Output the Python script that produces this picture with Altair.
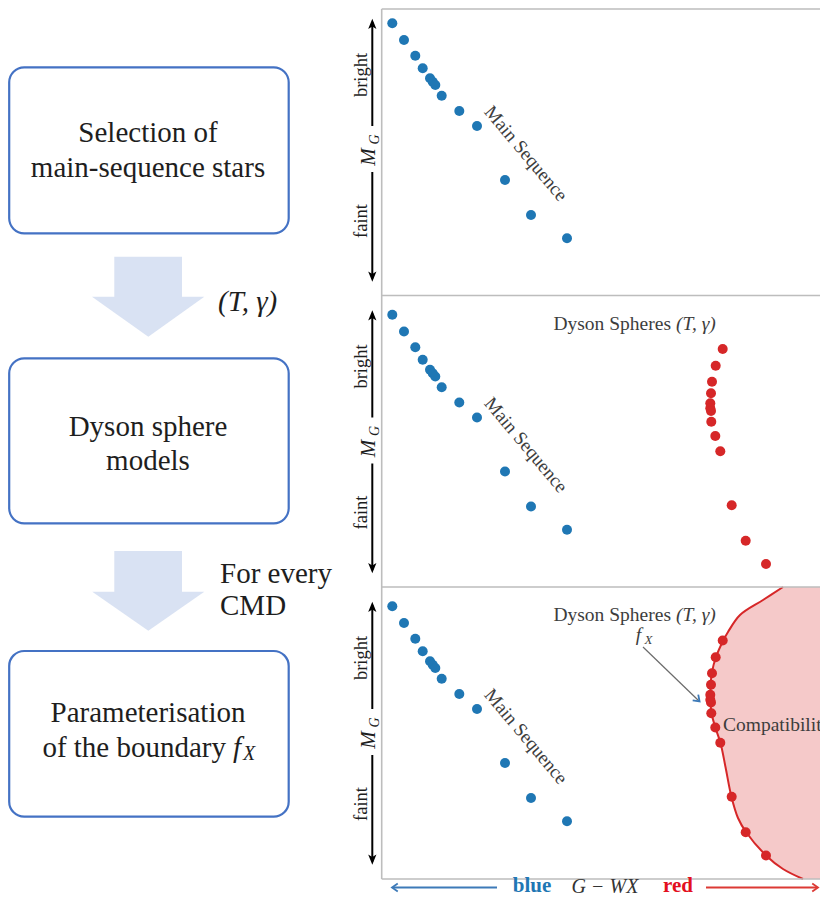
import altair as alt
import pandas as pd

# ---------------- data ----------------
# main-sequence stars: G-WX colour and M_G (diagram units, top panel)
ms_colour = [392.3, 404.0, 415.3, 422.7, 430.0, 432.7, 435.3, 441.7, 459.3, 477.0, 505.0, 531.0, 567.0]
ms_mag = [23.3, 40.0, 55.7, 68.3, 78.3, 81.7, 85.0, 95.7, 111.0, 126.0, 180.0, 215.0, 238.3]
# Dyson-sphere models (T, gamma)
ds_colour = [722.7, 715.7, 712.0, 711.0, 710.3, 710.3, 711.0, 711.3, 715.3, 720.3, 731.7, 745.7, 766.0]
ds_mag = [57.5, 74.2, 90.2, 101.8, 111.8, 116.8, 119.5, 130.2, 144.5, 159.8, 213.8, 249.2, 272.5]
# compatibility boundary f_X
fx_colour = [783, 763, 740, 728, 723, 716, 712, 710.5, 710.5, 711.5, 715.5, 720.5, 725.5, 731.5, 738, 746, 766, 783, 803]
fx_mag = [4, 17, 32, 49, 58, 74, 89, 104, 117, 130, 145, 160, 184, 214, 235, 249, 272.5, 286, 296]

# flow-chart texts
box_line1 = ["Selection of", "Dyson sphere", "Parameterisation"]
box_line2 = ["main-sequence stars", "models", "of the boundary"]
step_labels = ["(T, γ)", "For every", "CMD"]

# ---------------- layout constants ----------------
PANEL_DY = [0, 291.5, 583]
PANEL_H = [9, 295.5, 587, 879]
PANEL_LEFT = 381.7
RIGHT = 828
BOX_X = (9.2, 288.7)
BOX_TOP = [67.3, 358.3, 651.0]
BOX_BOT = [233.3, 523.3, 816.7]
BOX_CX = 148
LINE1_Y = [133, 426.5, 713]
LINE2_Y = [168, 460.5, 747.5]
AXIS_Y = 887.5
SERIF = "'Liberation Serif', 'Times New Roman', 'DejaVu Serif', serif"
TXT = "#1e1e1e"
GREY_TXT = "#3d3d3d"
BLUE = "#1f77b4"
RED = "#d62728"

XS = alt.Scale(domain=[8, 820], nice=False, zero=False)
YS = alt.Scale(domain=[8, 897], nice=False, zero=False, reverse=True)


def xy(extra=None):
    e = dict(x=alt.X("x:Q", scale=XS, axis=None), y=alt.Y("y:Q", scale=YS, axis=None))
    if extra:
        e.update(extra)
    return e


def text_layer(df, **kw):
    kw.setdefault("font", SERIF)
    return alt.Chart(df).mark_text(**kw).encode(**xy({"text": "text:N"}))


layers = []

# block arrows between boxes
shaft = pd.DataFrame({"x": [114.3, 114.3], "x2": [182.0, 182.0], "y": [256.7, 551.0], "y2": [297.5, 592.5]})
layers.append(alt.Chart(shaft).mark_rect(color="#d9e2f3").encode(**xy({"x2": "x2:Q", "y2": "y2:Q"})))
head = pd.DataFrame({
    "x": [92, 148.3, 204.3, 92.3, 148.3, 204.3],
    "y": [296.7, 336.7, 296.7, 591.7, 630.7, 591.7],
    "y2": [296.7, 296.7, 296.7, 591.7, 591.7, 591.7],
    "g": [0, 0, 0, 1, 1, 1],
})
layers.append(alt.Chart(head).mark_area(color="#d9e2f3", opacity=1).encode(**xy({"y2": "y2:Q", "detail": "g:N"})))

# rounded boxes
boxes = pd.DataFrame({"x": [BOX_X[0]] * 3, "x2": [BOX_X[1]] * 3, "y": BOX_TOP, "y2": BOX_BOT})
layers.append(alt.Chart(boxes).mark_rect(cornerRadius=15, fill="white", stroke="#4472c4", strokeWidth=2.2)
              .encode(**xy({"x2": "x2:Q", "y2": "y2:Q"})))

# box texts
bt = pd.DataFrame({"x": [BOX_CX] * 5, "y": LINE1_Y + LINE2_Y[:2], "text": box_line1 + box_line2[:2]})
layers.append(text_layer(bt, fontSize=29, color=TXT, align="center", baseline="middle"))
layers.append(text_layer(pd.DataFrame({"x": [226], "y": [LINE2_Y[2]], "text": [box_line2[2]]}),
                         fontSize=29, color=TXT, align="right", baseline="middle"))
layers.append(text_layer(pd.DataFrame({"x": [233], "y": [LINE2_Y[2]], "text": ["f"]}),
                         fontSize=29, color=TXT, align="left", baseline="middle", fontStyle="italic"))
layers.append(text_layer(pd.DataFrame({"x": [243], "y": [LINE2_Y[2] + 6], "text": ["X"]}),
                         fontSize=20, color=TXT, align="left", baseline="middle", fontStyle="italic"))

# step labels
layers.append(text_layer(pd.DataFrame({"x": [218], "y": [301.7], "text": [step_labels[0]]}),
                         fontSize=29, color=TXT, align="left", baseline="middle", fontStyle="italic"))
layers.append(text_layer(pd.DataFrame({"x": [220, 220], "y": [574, 605.5], "text": step_labels[1:]}),
                         fontSize=29, color=TXT, align="left", baseline="middle"))

# compatibility region (bottom panel)
curve = pd.DataFrame({"x": fx_colour, "y": [m + PANEL_DY[2] for m in fx_mag], "x2": [RIGHT] * len(fx_colour),
                      "i": list(range(len(fx_colour)))})
layers.append(alt.Chart(curve).mark_area(orient="horizontal", interpolate="catmull-rom", color=RED, opacity=0.25)
              .encode(**xy({"x2": "x2:Q"})))
layers.append(alt.Chart(curve).mark_line(interpolate="catmull-rom", color=RED, strokeWidth=2)
              .encode(**xy({"order": "i:Q"})))

# panel frames
rules = pd.DataFrame({
    "x": [PANEL_LEFT] * 5, "x2": [RIGHT] * 4 + [PANEL_LEFT],
    "y": PANEL_H + [PANEL_H[0]], "y2": PANEL_H + [PANEL_H[-1]],
})
layers.append(alt.Chart(rules).mark_rule(color="#bdbdbd", strokeWidth=1.6).encode(**xy({"x2": "x2:Q", "y2": "y2:Q"})))

# axis arrows / labels of every panel
segs = pd.DataFrame({
    "x": [372.3] * 6, "x2": [372.3] * 6,
    "y": [v + d for d in PANEL_DY for v in (22, 172)],
    "y2": [v + d for d in PANEL_DY for v in (126, 278.5)],
})
layers.append(alt.Chart(segs).mark_rule(color="black", strokeWidth=2).encode(**xy({"x2": "x2:Q", "y2": "y2:Q"})))
heads = pd.DataFrame({"x": [372.3] * 6, "y": [v + d for d in PANEL_DY for v in (24.2, 276.3)],
                      "a": [0, 180] * 3})
layers.append(alt.Chart(heads).mark_point(shape="M0,-1L0.75,0.85L0,0.4L-0.75,0.85Z", filled=True, size=121,
                                          color="black", opacity=1)
              .encode(**xy({"angle": alt.Angle("a:Q", scale=None)})))
bf = pd.DataFrame({"x": [361] * 6, "y": [v + d for d in PANEL_DY for v in (75, 221)],
                   "text": ["bright", "faint"] * 3})
layers.append(text_layer(bf, fontSize=18.5, color=TXT, angle=270, align="center", baseline="middle"))
layers.append(text_layer(pd.DataFrame({"x": [368.5] * 3, "y": [157 + d for d in PANEL_DY], "text": ["M"] * 3}),
                         fontSize=21, color=TXT, angle=270, align="center", baseline="middle", fontStyle="italic"))
layers.append(text_layer(pd.DataFrame({"x": [374.5] * 3, "y": [139.5 + d for d in PANEL_DY], "text": ["G"] * 3}),
                         fontSize=14, color=TXT, angle=270, align="center", baseline="middle", fontStyle="italic"))

# main sequence label
layers.append(text_layer(pd.DataFrame({"x": [526] * 3, "y": [153.5 + d for d in PANEL_DY],
                                       "text": ["Main Sequence"] * 3}),
                         fontSize=19, color=GREY_TXT, angle=50, align="center", baseline="middle"))

# dyson spheres label
layers.append(text_layer(pd.DataFrame({"x": [671] * 2, "y": [32 + d for d in PANEL_DY[1:]],
                                       "text": ["Dyson Spheres"] * 2}),
                         fontSize=19.5, color=GREY_TXT, align="right", baseline="middle"))
layers.append(text_layer(pd.DataFrame({"x": [676] * 2, "y": [32 + d for d in PANEL_DY[1:]],
                                       "text": ["(T, γ)"] * 2}),
                         fontSize=19.5, color=GREY_TXT, align="left", baseline="middle", fontStyle="italic"))
layers.append(text_layer(pd.DataFrame({"x": [638.5], "y": [634.5], "text": ["f"]}),
                         fontSize=19.5, color=GREY_TXT, align="center", baseline="middle", fontStyle="italic"))
layers.append(text_layer(pd.DataFrame({"x": [648.5], "y": [639.5], "text": ["X"]}),
                         fontSize=13, color=GREY_TXT, align="center", baseline="middle", fontStyle="italic"))
layers.append(text_layer(pd.DataFrame({"x": [723], "y": [724.5], "text": ["Compatibility"]}),
                         fontSize=19.5, color=GREY_TXT, align="left", baseline="middle"))

# f_X pointer
ptr = pd.DataFrame({"x": [643], "y": [647], "x2": [699], "y2": [701]})
layers.append(alt.Chart(ptr).mark_rule(color="#6b6b6b", strokeWidth=1.2).encode(**xy({"x2": "x2:Q", "y2": "y2:Q"})))

# stars
blue = pd.DataFrame({"x": ms_colour * 3, "y": [m + d for d in PANEL_DY for m in ms_mag]})
layers.append(alt.Chart(blue).mark_circle(size=100, color=BLUE, opacity=1).encode(**xy()))
red = pd.DataFrame({"x": ds_colour * 2, "y": [m + d for d in PANEL_DY[1:] for m in ds_mag]})
layers.append(alt.Chart(red).mark_circle(size=100, color=RED, opacity=1).encode(**xy()))

# bottom colour axis
barrow = pd.DataFrame({"x": [393, 706], "x2": [497, 817], "y": [AXIS_Y] * 2, "y2": [AXIS_Y] * 2, "c": ["b", "r"]})
arrow_cols = alt.Scale(domain=["b", "r"], range=["#3d7ab8", "#dc3a35"])
layers.append(alt.Chart(barrow).mark_rule(strokeWidth=2)
              .encode(**xy({"x2": "x2:Q", "y2": "y2:Q", "color": alt.Color("c:N", scale=arrow_cols, legend=None)})))
chev = pd.DataFrame({"x": [397, 813, 696], "y": [AXIS_Y, AXIS_Y, 698], "a": [270, 90, 134], "c": ["b", "r", "g"]})
chev_cols = alt.Scale(domain=["b", "r", "g"], range=["#3d7ab8", "#dc3a35", "#6b6b6b"])
layers.append(alt.Chart(chev).mark_point(shape="M-0.8,0.15L0,-1L0.8,0.15", filled=False, size=100,
                                         strokeWidth=1.8, opacity=1)
              .encode(**xy({"angle": alt.Angle("a:Q", scale=None),
                            "color": alt.Color("c:N", scale=chev_cols, legend=None)})))
layers.append(text_layer(pd.DataFrame({"x": [532], "y": [AXIS_Y - 1.5], "text": ["blue"]}),
                         fontSize=21, color=BLUE, fontWeight="bold", align="center", baseline="middle"))
layers.append(text_layer(pd.DataFrame({"x": [678], "y": [AXIS_Y - 1.5], "text": ["red"]}),
                         fontSize=21, color="#e3101f", fontWeight="bold", align="center", baseline="middle"))
layers.append(text_layer(pd.DataFrame({"x": [605], "y": [AXIS_Y - 1], "text": ["G − WX"]}),
                         fontSize=20, color="#333333", fontStyle="italic", align="center", baseline="middle"))

chart = (alt.layer(*layers)
         .properties(width=812, height=889, autosize=alt.AutoSizeParams(type="none"), padding=0)
         .configure_view(strokeWidth=0))

chart.save("out.html", embed_options={"renderer": "svg", "actions": False})
